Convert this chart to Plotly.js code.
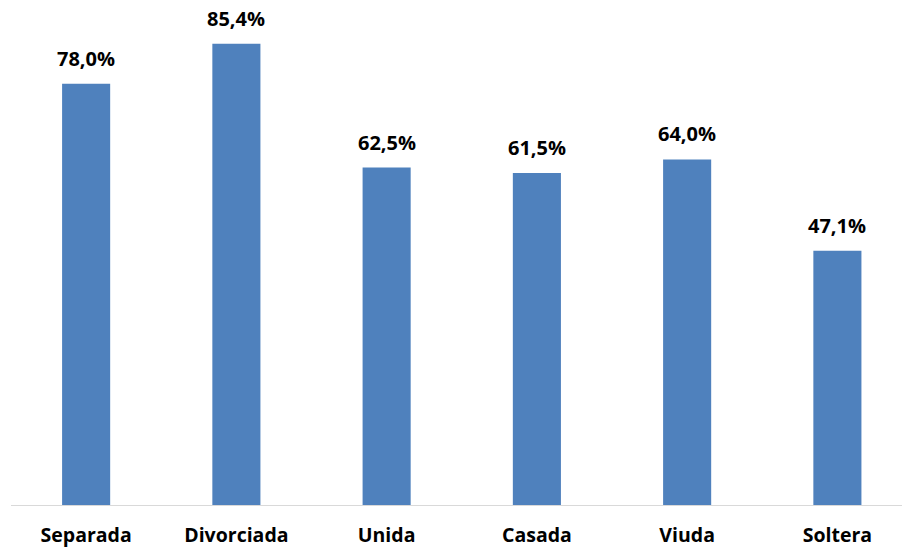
<!DOCTYPE html>
<html>
<head>
<meta charset="utf-8">
<script src="https://cdn.plot.ly/plotly-3.0.1.min.js"></script>
<style>html,body{margin:0;padding:0;background:#fff;}#chart{width:902px;height:548px;}</style>
</head>
<body>
<div id="chart"></div>
<script>
const categories = ["Separada", "Divorciada", "Unida", "Casada", "Viuda", "Soltera"];
const values = [78.0, 85.4, 62.5, 61.5, 64.0, 47.1];
const labels = values.map(v => v.toFixed(1).replace('.', ',') + '%');

const font = "'Open Sans', 'Liberation Sans', Arial, sans-serif";

Plotly.newPlot('chart', [{
  type: 'bar',
  x: categories,
  y: values,
  marker: {color: '#4F81BD'},
  hoverinfo: 'none'
}], {
  width: 902, height: 548,
  margin: {l: 11, r: 0, t: 19, b: 43},
  paper_bgcolor: '#fff', plot_bgcolor: '#fff',
  bargap: 0.68,
  showlegend: false,
  separators: ',.',
  xaxis: {
    type: 'category',
    range: [-0.5, 5.43],
    showline: true, linecolor: '#d9d9d9', linewidth: 1,
    ticks: '', showgrid: false, zeroline: false,
    tickfont: {family: font, size: 19.5, color: '#000', weight: 'bold'},
    ticklabelstandoff: 13
  },
  yaxis: {
    range: [0, 90], visible: false, showgrid: false, zeroline: false
  },
  annotations: categories.map((c, i) => ({
    x: c, y: values[i], xref: 'x', yref: 'y',
    text: '<b>' + labels[i] + '</b>',
    showarrow: false, yanchor: 'bottom', yshift: 10,
    font: {family: font, size: 20, color: '#000'}
  }))
}, {staticPlot: true});
</script>
</body>
</html>
